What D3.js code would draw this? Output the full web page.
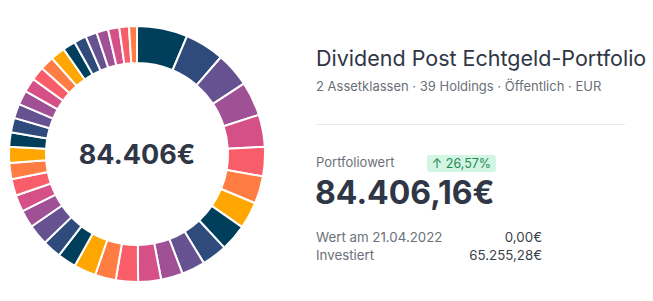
<!DOCTYPE html>
<html>
<head>
<meta charset="utf-8">
<script src="https://cdn.jsdelivr.net/npm/d3@7"></script>
<style>
  html, body { margin: 0; padding: 0; background: #fff; }
  svg { display: block; font-family: Inter, "Noto Sans", sans-serif; }
</style>
</head>
<body>
<svg id="chart" width="653" height="301"></svg>
<script>
// Holding values (EUR), in display order (clockwise from 12 o'clock)
const holdingValues = [5393, 4197, 3681, 3658, 3400, 3142, 2931, 2860, 2860, 2696,
  2509, 2321, 2438, 2368, 2227, 2345, 1993, 1993, 2204, 1876,
  1782, 1758, 1735, 1712, 1524, 1547, 1524, 1524, 1501, 1477,
  1477, 1547, 1360, 1313, 1219, 1243, 1196, 1032, 844];
const palette = ["#003f5c", "#2f4b7c", "#665191", "#a05195", "#d45087", "#f95d6a", "#ff7c43", "#ffa600"];

const centerLabel = "84.406€";
const title = "Dividend Post Echtgeld-Portfolio";
const subtitle = "2 Assetklassen · 39 Holdings · Öffentlich · EUR";
const valueLabel = "Portfoliowert";
const changeLabel = "↑ 26,57%";
const totalValue = "84.406,16€";
const detailLabels = ["Wert am 21.04.2022", "Investiert"];
const detailValues = ["0,00€", "65.255,28€"];

const svg = d3.select("#chart");
const cx = 137, cy = 154, rOuter = 128, rInner = 91;

const pie = d3.pie().sort(null).value(d => d);
const arc = d3.arc().innerRadius(rInner).outerRadius(rOuter);
const color = d3.scaleOrdinal().domain(d3.range(holdingValues.length)).range(palette);

const g = svg.append("g").attr("transform", `translate(${cx},${cy})`);
g.selectAll("path")
  .data(pie(holdingValues))
  .join("path")
  .attr("d", arc)
  .attr("fill", (d, i) => color(i))
  .attr("stroke", "#fff")
  .attr("stroke-width", 2)
  .attr("stroke-linejoin", "round");

g.append("text")
  .attr("text-anchor", "middle")
  .attr("dy", "0.36em")
  .attr("font-size", 27)
  .attr("font-weight", 700)
  .attr("fill", "#2f3645")
  .text(centerLabel);

const x0 = 316;
svg.append("text").attr("x", x0).attr("y", 66)
  .attr("font-size", 21.5).attr("fill", "#2f3645").text(title);
svg.append("text").attr("x", x0).attr("y", 91)
  .attr("font-size", 13).attr("fill", "#6b7079").text(subtitle);

svg.append("line").attr("x1", x0).attr("x2", 625).attr("y1", 124.5).attr("y2", 124.5)
  .attr("stroke", "#e6e8eb").attr("stroke-width", 1);

svg.append("text").attr("x", x0).attr("y", 167)
  .attr("font-size", 13).attr("fill", "#6b7079").text(valueLabel);

svg.append("rect").attr("x", 427).attr("y", 155).attr("width", 69).attr("height", 17)
  .attr("rx", 3).attr("fill", "#d3f5e3");
svg.append("text").attr("x", 461.5).attr("y", 167.5).attr("text-anchor", "middle")
  .attr("font-size", 12.5).attr("fill", "#1f8a55").text(changeLabel);

svg.append("text").attr("x", x0 - 1).attr("y", 204)
  .attr("font-size", 32).attr("font-weight", 700).attr("fill", "#2f3645").text(totalValue);

detailLabels.forEach((lab, i) => {
  const y = 242 + i * 17.5;
  svg.append("text").attr("x", x0).attr("y", y)
    .attr("font-size", 13.3).attr("fill", "#6b7079").text(lab);
  svg.append("text").attr("x", 542).attr("y", y).attr("text-anchor", "end")
    .attr("font-size", 13.3).attr("fill", "#3a3f4a").text(detailValues[i]);
});
</script>
</body>
</html>
